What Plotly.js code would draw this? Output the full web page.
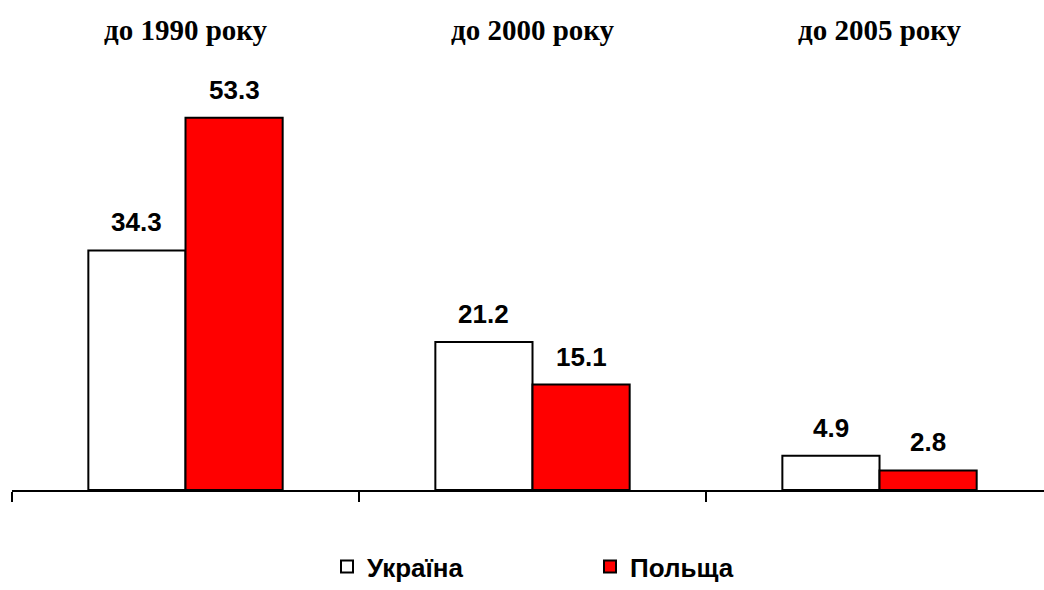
<!DOCTYPE html>
<html>
<head>
<meta charset="utf-8">
<script src="https://cdn.plot.ly/plotly-3.0.1.min.js"></script>
<style>html,body{margin:0;padding:0;background:#fff;}#chart{width:1044px;height:590px;}</style>
</head>
<body>
<div id="chart"></div>
<script>
const categories = ["до 1990 року", "до 2000 року", "до 2005 року"];
const seriesNames = ["Україна", "Польща"];
const ukraine = [34.3, 21.2, 4.9];
const poland = [53.3, 15.1, 2.8];

const BARGAP = 0.44;
const barW = (1 - BARGAP) / 2;
const valFont = {family: "Liberation Sans, Arial, sans-serif", size: 26, color: "#000"};

const traces = [
  {type: "bar", name: seriesNames[0], x: categories, y: ukraine,
   marker: {color: "#FFFFFF", line: {color: "#000", width: 2}}, hoverinfo: "x+y"},
  {type: "bar", name: seriesNames[1], x: categories, y: poland,
   marker: {color: "#FF0000", line: {color: "#000", width: 2}}, hoverinfo: "x+y"}
];

const annotations = [];
categories.forEach((c, i) => {
  annotations.push({x: i, y: 1, xref: "x", yref: "paper", yanchor: "middle", yshift: 41,
    text: "<b>" + c + "</b>", showarrow: false,
    font: {family: "Liberation Serif, Times New Roman, serif", size: 29, color: "#000"}});
  annotations.push({x: i - barW / 2, y: ukraine[i], xref: "x", yref: "y", yanchor: "bottom", yshift: 11,
    text: "<b>" + ukraine[i].toFixed(1) + "</b>", showarrow: false, font: valFont});
  annotations.push({x: i + barW / 2, y: poland[i], xref: "x", yref: "y", yanchor: "bottom", yshift: 11,
    text: "<b>" + poland[i].toFixed(1) + "</b>", showarrow: false, font: valFont});
});

const layout = {
  width: 1044, height: 590,
  margin: {l: 12, r: 0, t: 71, b: 100},
  paper_bgcolor: "#fff", plot_bgcolor: "#fff",
  barmode: "group", bargap: BARGAP, bargroupgap: 0,
  showlegend: true,
  legend: {orientation: "h", xref: "container", yref: "container",
    x: 327 / 1044, xanchor: "left", y: 0, yanchor: "bottom",
    entrywidth: 218, entrywidthmode: "pixels",
    font: {family: "Liberation Sans, Arial, sans-serif", size: 26, color: "#000", weight: "bold"}},
  xaxis: {type: "category", range: [-0.5, 2.474], showline: true, linecolor: "#000", linewidth: 2,
    ticks: "outside", tickson: "boundaries", ticklen: 10, tickwidth: 2, tickcolor: "#000",
    showticklabels: false, showgrid: false, zeroline: false, fixedrange: true},
  yaxis: {range: [0, 60], visible: false, showgrid: false, zeroline: false, fixedrange: true},
  annotations: annotations
};

Plotly.newPlot("chart", traces, layout, {displayModeBar: false, staticPlot: true});
</script>
</body>
</html>
